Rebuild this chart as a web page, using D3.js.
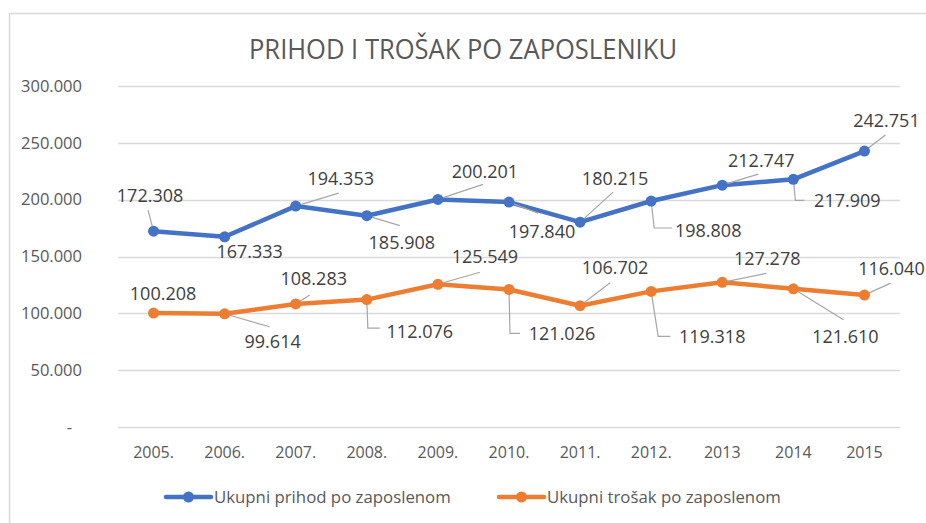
<!DOCTYPE html>
<html>
<head>
<meta charset="utf-8">
<script src="https://cdn.jsdelivr.net/npm/d3@7"></script>
<style>
  body { margin: 0; background: #ffffff; }
  svg { display: block; }
</style>
</head>
<body>
<script>
// data
var years = ["2005.", "2006.", "2007.", "2008.", "2009.", "2010.", "2011.", "2012.", "2013", "2014", "2015"];
var prihod = [172308, 167333, 194353, 185908, 200201, 197840, 180215, 198808, 212747, 217909, 242751];
var trosak = [100208, 99614, 108283, 112076, 125549, 121026, 106702, 119318, 127278, 121610, 116040];
var yTicks = [0, 50000, 100000, 150000, 200000, 250000, 300000];
var seriesNames = ["Ukupni prihod po zaposlenom", "Ukupni trošak po zaposlenom"];

// label placement (text offset dx,dy from point, leader type, leader end)
var prihodLabelPos = [
  [-3.5, -36, "line", -5.5, -21],
  [25, 15, "none"],
  [45, -28, "line", 43, -13],
  [35, 27, "line", 33, 10],
  [47, -28, "line", 45, -15],
  [33, 29, "line", 29, 11],
  [35, -44, "line", 33, -30],
  [57, 29, "elbow", 21, 27, 3],
  [39, -25, "line", 36, -11],
  [54, 21, "elbow", 11, 21, 2],
  [22, -31, "line", 21, -16]
];
var trosakLabelPos = [
  [9.5, -20, "none"],
  [48, 28, "line", 45, 13],
  [18, -25, "line", 14, -9],
  [53, 32, "elbow", 13, 28.5, 1],
  [47, -28, "line", 42, -12],
  [53, 44, "elbow", 11, 44, 1],
  [35, -38, "line", 30, -23],
  [61, 45, "elbow", 19, 45, 7],
  [45, -24, "line", 44, -9],
  [52, 48, "line", 50, 31],
  [27, -27, "line", 26, -12]
];

var width = 926, height = 523;
var plot = {left: 118, right: 900, top: 86, bottom: 427};
var colors = ["#4472C4", "#ED7D31"];
var font = "'Open Sans', 'DejaVu Sans', sans-serif";

var svg = d3.select("body")
            .append("svg")
            .attr("width", width)
            .attr("height", height);

// chart border
svg.append("rect")
   .attr("x", 9.5)
   .attr("y", 13.5)
   .attr("width", 1000)
   .attr("height", 600)
   .attr("fill", "none")
   .attr("stroke", "#d9d9d9")
   .attr("stroke-width", 1.5);

// title
var title = svg.append("text")
   .attr("x", 463)
   .attr("y", 59)
   .attr("text-anchor", "middle")
   .attr("font-family", "'Liberation Sans Narrow', 'Open Sans', sans-serif")
   .attr("font-size", 28)
   .attr("fill", "#595959")
   .text("PRIHOD I TROŠAK PO ZAPOSLENIKU");
title.attr("textLength", 428).attr("lengthAdjust", "spacingAndGlyphs");

// scales
var xScale = d3.scaleBand()
               .domain(years)
               .range([plot.left, plot.right]);

var yScale = d3.scaleLinear()
               .domain([0, 300000])
               .range([plot.bottom, plot.top]);

function xPos(i) { return xScale(years[i]) + xScale.bandwidth() / 2; }

// gridlines
svg.selectAll(".grid")
   .data(yTicks)
   .enter()
   .append("line")
   .attr("class", "grid")
   .attr("x1", plot.left)
   .attr("x2", plot.right)
   .attr("y1", function(d) { return Math.round(yScale(d)) + 0.5; })
   .attr("y2", function(d) { return Math.round(yScale(d)) + 0.5; })
   .attr("stroke", "#d9d9d9")
   .attr("stroke-width", 1.3);

// Y axis
var yAxis = d3.axisLeft(yScale)
              .tickValues(yTicks)
              .tickSize(0)
              .tickPadding(0)
              .tickFormat(function(d) {
                return d === 0 ? "-" : d3.format(",")(d).replace(/,/g, ".");
              });

var gy = svg.append("g")
   .attr("transform", "translate(82,0)")
   .call(yAxis);
gy.select(".domain").remove();
gy.selectAll("text")
  .attr("font-family", font)
  .attr("font-size", 16.5)
  .attr("fill", "#595959")
  .attr("dx", function(d) { return d === 0 ? -10 : 0; });

// X axis
var xAxis = d3.axisBottom(xScale)
              .tickSize(0)
              .tickPadding(0);

var gx = svg.append("g")
   .attr("transform", "translate(0,452)")
   .call(xAxis);
gx.select(".domain").remove();
gx.selectAll("text")
  .attr("font-family", font)
  .attr("font-size", 16)
  .attr("fill", "#595959")
  .attr("dy", "0.35em");

// lines + markers + labels
var line = d3.line()
             .x(function(d, i) { return xPos(i); })
             .y(function(d) { return yScale(d); });

function drawSeries(values, color, labelPos) {
  svg.append("path")
     .datum(values)
     .attr("d", line)
     .attr("fill", "none")
     .attr("stroke", color)
     .attr("stroke-width", 4.5)
     .attr("stroke-linejoin", "round")
     .attr("stroke-linecap", "round");

  // leader lines
  values.forEach(function(v, i) {
    var p = labelPos[i];
    var px = xPos(i), py = yScale(v);
    if (p[2] === "line") {
      svg.append("line")
         .attr("x1", px).attr("y1", py)
         .attr("x2", px + p[3]).attr("y2", py + p[4])
         .attr("stroke", "#a6a6a6")
         .attr("stroke-width", 1.2);
    } else if (p[2] === "elbow") {
      svg.append("path")
         .attr("d", "M" + px + "," + py + "L" + (px + p[5]) + "," + (py + p[4]) + "L" + (px + p[3]) + "," + (py + p[4]))
         .attr("fill", "none")
         .attr("stroke", "#a6a6a6")
         .attr("stroke-width", 1.2);
    }
  });

  svg.selectAll(null)
     .data(values)
     .enter()
     .append("circle")
     .attr("cx", function(d, i) { return xPos(i); })
     .attr("cy", function(d) { return yScale(d); })
     .attr("r", 5.5)
     .attr("fill", color);

  svg.selectAll(null)
     .data(values)
     .enter()
     .append("text")
     .attr("x", function(d, i) { return xPos(i) + labelPos[i][0]; })
     .attr("y", function(d, i) { return yScale(d) + labelPos[i][1]; })
     .attr("dy", "0.36em")
     .attr("text-anchor", "middle")
     .attr("font-family", font)
     .attr("font-size", 18)
     .attr("fill", "#404040")
     .text(function(d) { return d3.format(",")(d).replace(/,/g, "."); });
}

drawSeries(prihod, colors[0], prihodLabelPos);
drawSeries(trosak, colors[1], trosakLabelPos);

// legend
var legendX = [166, 499];
var legend = svg.selectAll(".legend")
   .data(seriesNames)
   .enter()
   .append("g")
   .attr("class", "legend")
   .attr("transform", function(d, i) { return "translate(" + legendX[i] + ",497)"; });

legend.append("line")
      .attr("x1", 0).attr("x2", 45)
      .attr("y1", 0).attr("y2", 0)
      .attr("stroke", function(d, i) { return colors[i]; })
      .attr("stroke-width", 4.5)
      .attr("stroke-linecap", "round");

legend.append("circle")
      .attr("cx", 22.5)
      .attr("r", 5.5)
      .attr("fill", function(d, i) { return colors[i]; });

legend.append("text")
      .attr("x", 48)
      .attr("dy", "0.35em")
      .attr("font-family", font)
      .attr("font-size", 16.8)
      .attr("fill", "#595959")
      .text(function(d) { return d; });
</script>
</body>
</html>
